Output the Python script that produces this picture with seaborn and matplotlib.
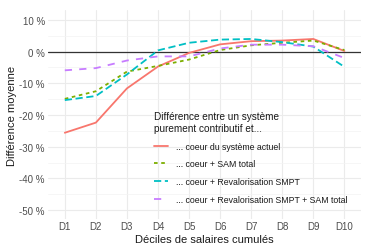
import pandas as pd
import numpy as np
import matplotlib
matplotlib.use('Agg')
import matplotlib.pyplot as plt
import seaborn as sns

deciles = ['D1', 'D2', 'D3', 'D4', 'D5', 'D6', 'D7', 'D8', 'D9', 'D10']
coeur = [-25.6, -22.4, -11.6, -4.7, -0.4, 2.3, 3.3, 3.5, 4.0, 0.2]
coeur_sam = [-14.9, -12.5, -6.3, -4.5, -2.5, 0.5, 2.0, 2.8, 3.5, 0.5]
coeur_smpt = [-15.3, -14.0, -7.2, 0.4, 2.8, 3.8, 4.0, 3.0, 1.6, -4.8]
coeur_smpt_sam = [-5.9, -5.2, -2.8, -1.5, -1.5, 1.0, 2.2, 2.2, 1.7, -2.0]

series = {
    '... coeur du système actuel': coeur,
    '... coeur + SAM total': coeur_sam,
    '... coeur + Revalorisation SMPT': coeur_smpt,
    '... coeur + Revalorisation SMPT + SAM total': coeur_smpt_sam,
}
rows = []
for name, vals in series.items():
    for i, v in enumerate(vals):
        rows.append({'decile': i + 1, 'diff': v, 'scenario': name})
df = pd.DataFrame(rows)

sns.set_style('whitegrid')
plt.rcParams['font.family'] = ['Liberation Sans', 'DejaVu Sans']

fig, ax = plt.subplots(figsize=(3.67, 2.51), dpi=100)
fig.subplots_adjust(left=0.13, right=0.985, bottom=0.125, top=0.955)

palette = ['#F8766D', '#7CAE00', '#00BFC4', '#C77CFF']
dashes = ['', (2, 2), (4, 2), (4, 4)]
sns.lineplot(data=df, x='decile', y='diff', hue='scenario', style='scenario',
             palette=palette, dashes=dashes, linewidth=1.3, ax=ax)

ax.axhline(0, color='#333333', linewidth=0.9, zorder=1)
ax.set_xlim(0.45, 10.55)
ax.set_ylim(-52.7, 13.05)
ax.set_xticks(range(1, 11))
ax.set_xticklabels(deciles)
ax.set_yticks(range(-50, 11, 10))
ax.set_yticklabels([f'{t} %' for t in range(-50, 11, 10)])
ax.set_yticks(range(-45, 11, 10), minor=True)
ax.grid(True, which='major', color='#EBEBEB', linewidth=0.8)
ax.grid(True, which='minor', axis='y', color='#F3F3F3', linewidth=0.5)
for s in ax.spines.values():
    s.set_visible(False)
ax.tick_params(axis='both', which='both', length=0, labelsize=7, colors='#4D4D4D', pad=2)
ax.set_xlabel('Déciles de salaires cumulés', fontsize=8, color='#1A1A1A', labelpad=2)
ax.set_ylabel('Différence moyenne', fontsize=8, color='#1A1A1A', labelpad=2)

leg = ax.legend(title='Différence entre un système\npurement contributif et...',
                loc='upper left', bbox_to_anchor=(0.34, 0.515), frameon=False,
                fontsize=6.3, title_fontsize=7.2, handlelength=1.5,
                labelspacing=1.0, alignment='left', borderpad=0,
                borderaxespad=0, handletextpad=1.0)
leg.get_title().set_color('#1A1A1A')
for t in leg.get_texts():
    t.set_color('#1A1A1A')

fig.savefig('out.png', dpi=100)
